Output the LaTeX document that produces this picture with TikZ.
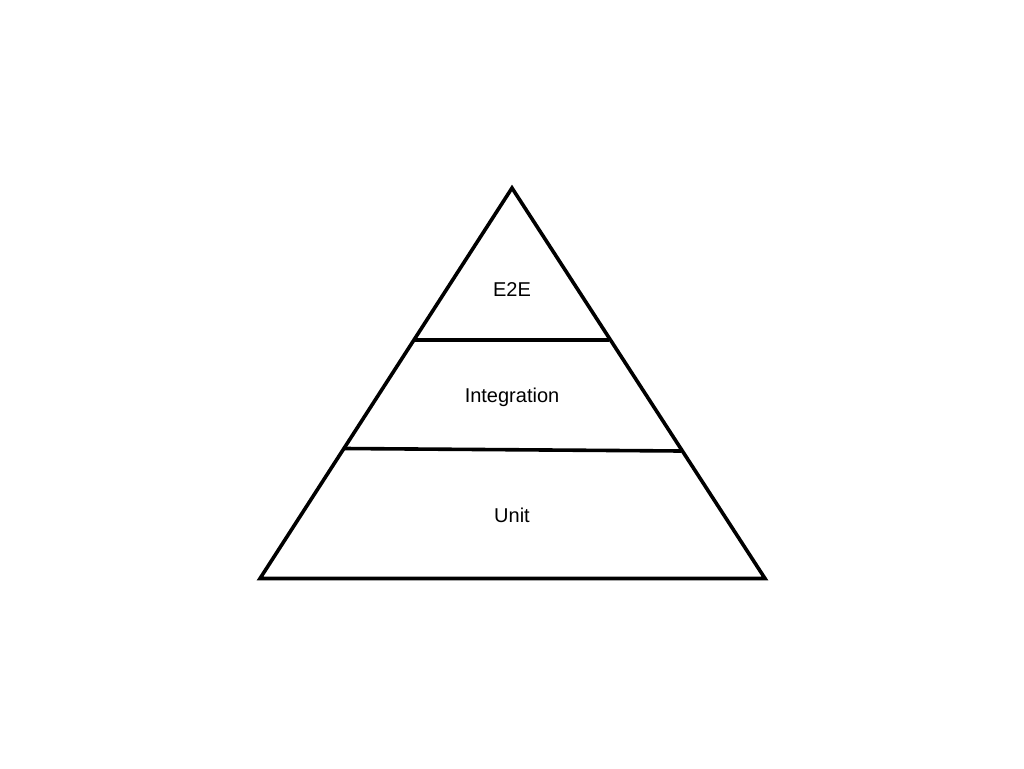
\documentclass[tikz,border=0pt]{standalone}
\usepackage{fontspec}
\setmainfont{Liberation Sans}
\begin{document}
\begin{tikzpicture}[x=1pt,y=-1pt,
  edge/.style={draw=black,line width=3.6pt},
  label/.style={font=\fontsize{20}{24}\selectfont,inner sep=0pt,anchor=center}]
\useasboundingbox (0,0) rectangle (1024,768);
% pyramid outline
\coordinate (apex) at (512,188);
\coordinate (bl) at (260,578.5);
\coordinate (br) at (765,578.5);
\draw[edge] (apex) -- (br) -- (bl) -- cycle;
% tier separators
\coordinate (a1) at (415,340);
\coordinate (b1) at (609,340);
\coordinate (a2) at (345,448.5);
\coordinate (b2) at (681,451);
\draw[edge] (a1) -- (b1);
\draw[edge] (a2) -- (b2);
% tier labels
\node[label] (e2e) at (512,290) {E2E};
\node[label] (integ) at (512,397.5) {Integration};
\node[label] (unit) at (512,515.5) {Unit};
\end{tikzpicture}
\end{document}
